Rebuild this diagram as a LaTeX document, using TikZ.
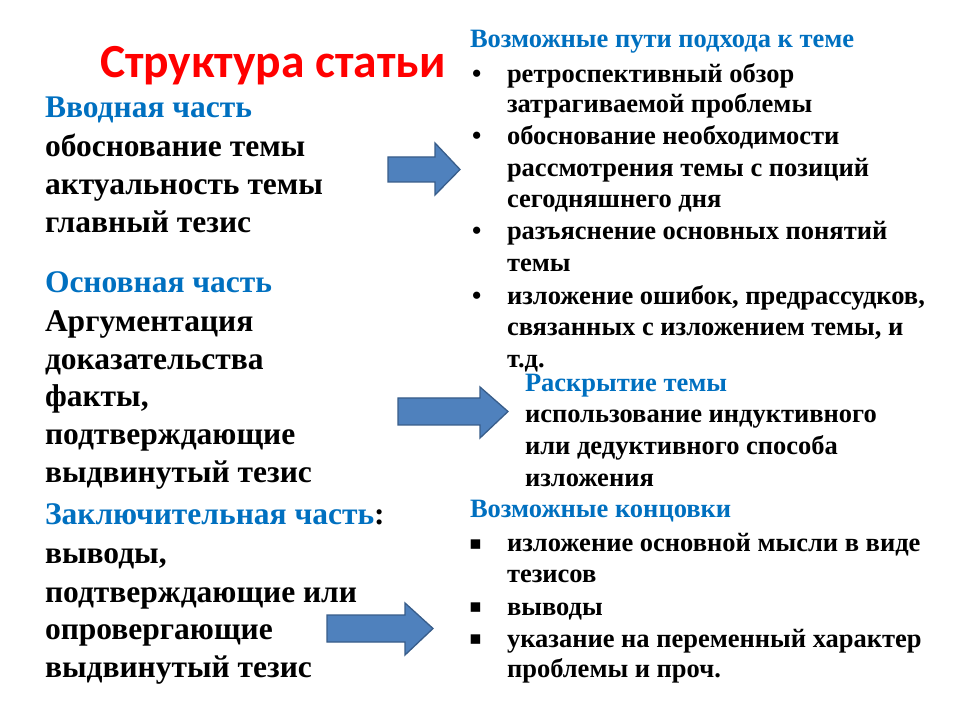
\documentclass[tikz,border=0pt]{standalone}
\usepackage{fontspec}
\setmainfont{Liberation Serif}
\newfontfamily\titlefont{Carlito}
\newfontfamily\symfont{DejaVu Sans}
\definecolor{titlered}{HTML}{FF0000}
\definecolor{headblue}{HTML}{0070C0}
\definecolor{arrowfill}{HTML}{4F81BD}
\definecolor{arrowline}{HTML}{385D8A}
\tikzset{
  ln/.style={anchor=base west, inner sep=0pt, outer sep=0pt},
  lbody/.style={ln, font=\fontsize{31.5}{31.5}\selectfont\bfseries},
  lhead/.style={lbody, text=headblue},
  rbody/.style={ln, font=\fontsize{26.5}{26.5}\selectfont\bfseries},
  rhead/.style={rbody, text=headblue},
  sqbullet/.style={ln, font=\symfont\fontsize{19}{19}\selectfont},
  bigarrow/.style={fill=arrowfill, draw=arrowline, line width=1.3pt, line join=miter},
}
\newcommand{\blockarrow}[7]{% x0 x1 x2 ytop ybot htop hbot
  \path[bigarrow] (#1,720-#4) -- (#2,720-#4) -- (#2,720-#6) -- (#3,720-#4/2-#5/2) -- (#2,720-#7) -- (#2,720-#5) -- (#1,720-#5) -- cycle;}
\begin{document}
\begin{tikzpicture}[x=1pt,y=1pt]
\useasboundingbox (0,0) rectangle (960,720);
\fill[white] (0,0) rectangle (960,720);
% title
\node[ln, font=\titlefont\fontsize{47.5}{47.5}\selectfont\bfseries, text=titlered] (title) at (100,720-78) {Структура статьи};
% left column
\node[lhead] (l1) at (45,720-118) {Вводная часть};
\node[lbody] (l2) at (45,720-157) {обоснование темы};
\node[lbody] (l3) at (45,720-195) {актуальность темы};
\node[lbody] (l4) at (45,720-233) {главный тезис};
\node[lhead] (l5) at (45,720-293) {Основная часть};
\node[lbody] (l6) at (45,720-332) {Аргументация};
\node[lbody] (l7) at (45,720-370) {доказательства};
\node[lbody] (l8) at (45,720-407) {факты,};
\node[lbody] (l9) at (45,720-445) {подтверждающие};
\node[lbody] (l10) at (45,720-483) {выдвинутый тезис};
\node[lbody] (l11) at (45,720-525) {\textcolor{headblue}{Заключительная часть}:};
\node[lbody] (l12) at (45,720-563) {выводы,};
\node[lbody] (l13) at (45,720-602) {подтверждающие или};
\node[lbody] (l14) at (45,720-639) {опровергающие};
\node[lbody] (l15) at (45,720-677) {выдвинутый тезис};
% arrows
\blockarrow{388}{435}{460}{157}{182}{143}{195}
\blockarrow{398}{480}{508}{398}{425}{387}{438}
\blockarrow{327}{405}{433}{615}{642}{603}{655}
% right column, block 1
\node[rhead] (r1) at (470,720-48) {Возможные пути подхода к теме};
\node[rbody] (b1) at (472,720-83) {•};
\node[rbody] (r2) at (507,720-83) {ретроспективный обзор};
\node[rbody] (r3) at (507,720-113) {затрагиваемой проблемы};
\node[rbody] (b2) at (472,720-145) {•};
\node[rbody] (r4) at (507,720-145) {обоснование необходимости};
\node[rbody] (r5) at (507,720-177) {рассмотрения темы с позиций};
\node[rbody] (r6) at (507,720-208) {сегодняшнего дня};
\node[rbody] (b3) at (472,720-240) {•};
\node[rbody] (r7) at (507,720-240) {разъяснение основных понятий};
\node[rbody] (r8) at (507,720-272) {темы};
\node[rbody] (b4) at (472,720-305) {•};
\node[rbody] (r9) at (507,720-305) {изложение ошибок, предрассудков,};
\node[rbody] (r10) at (507,720-336) {связанных с изложением темы, и};
\node[rbody] (r11) at (507,720-368) {т.д.};
% block 2
\node[rhead] (s1) at (525,720-392) {Раскрытие темы};
\node[rbody] (s2) at (525,720-423) {использование индуктивного};
\node[rbody] (s3) at (525,720-455) {или дедуктивного способа};
\node[rbody] (s4) at (525,720-487) {изложения};
% block 3
\node[rhead] (t1) at (470,720-518) {Возможные концовки};
\node[sqbullet] (c1) at (469,720-549) {▪};
\node[rbody] (t2) at (507,720-552) {изложение основной мысли в виде};
\node[rbody] (t3) at (507,720-582) {тезисов};
\node[sqbullet] (c2) at (469,720-612) {▪};
\node[rbody] (t4) at (507,720-615) {выводы};
\node[sqbullet] (c3) at (469,720-644) {▪};
\node[rbody] (t5) at (507,720-647) {указание на переменный характер};
\node[rbody] (t6) at (507,720-677) {проблемы и проч.};
\end{tikzpicture}
\end{document}
